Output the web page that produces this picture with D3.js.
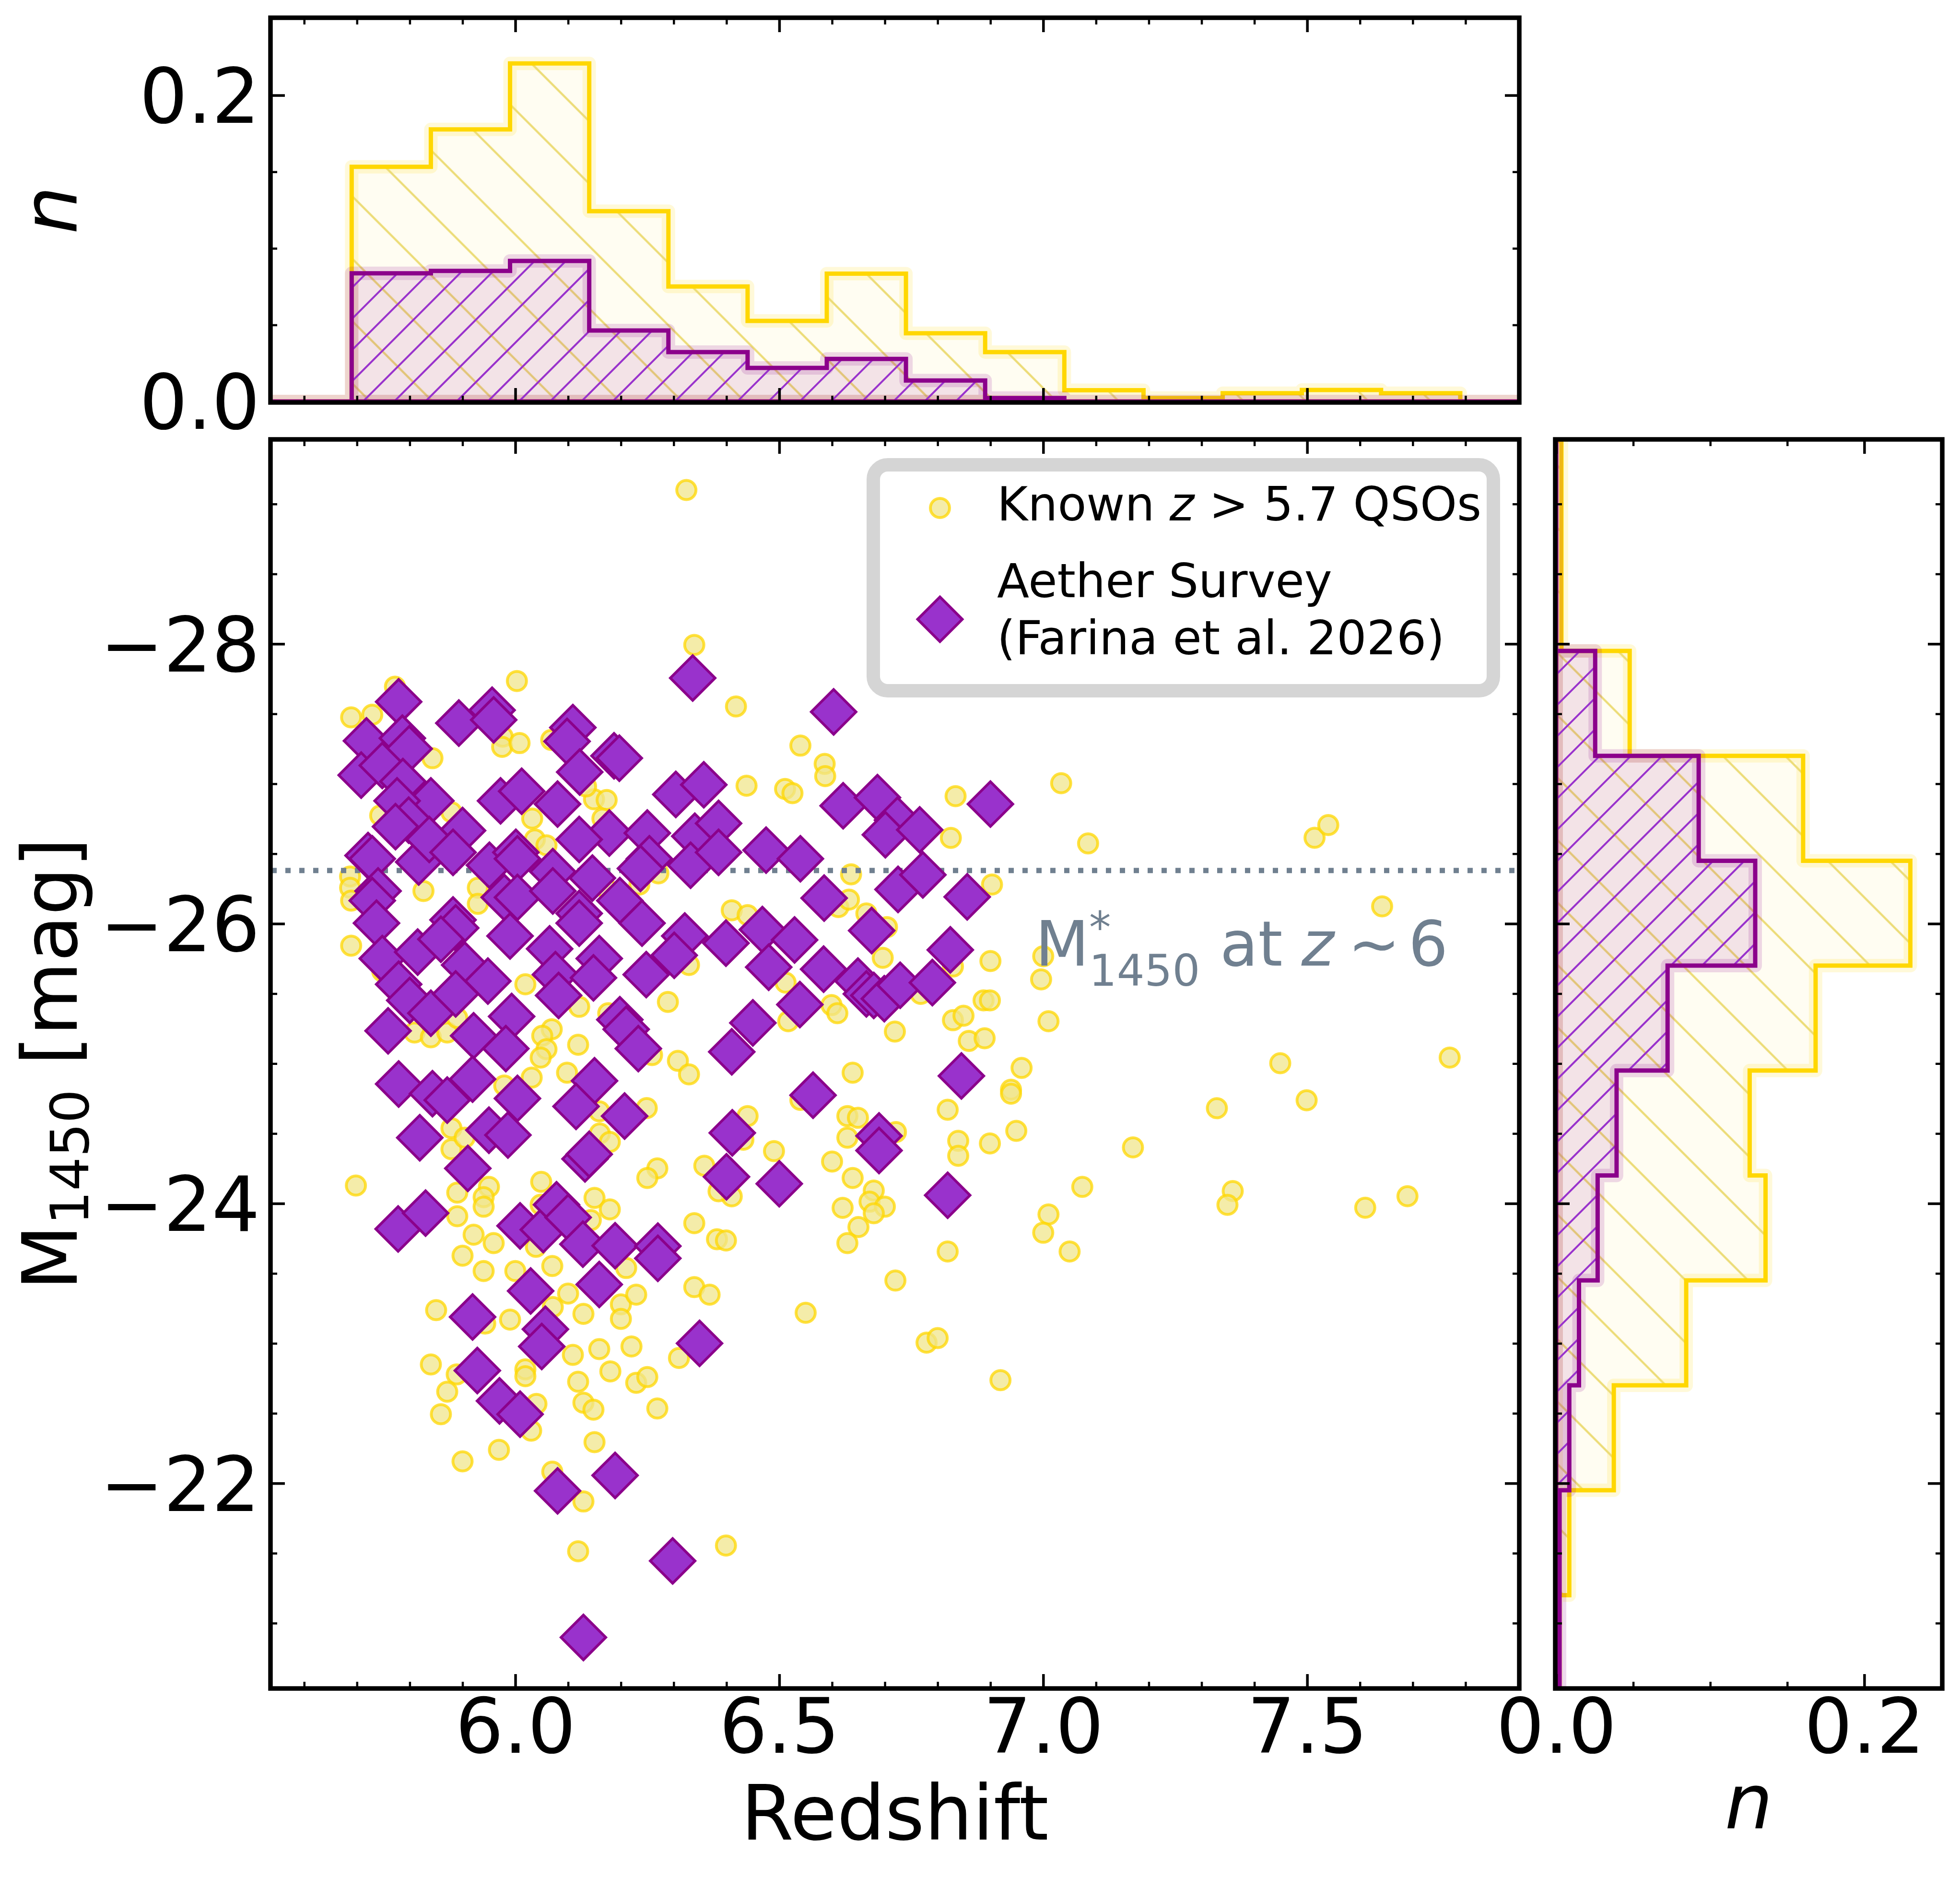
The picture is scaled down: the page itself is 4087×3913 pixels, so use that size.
<!DOCTYPE html>
<html>
<head>
<meta charset="utf-8">
<title>M1450 vs redshift</title>
<script src="https://d3js.org/d3.v7.min.js"></script>
<style>
  body { margin: 0; background: #fff; }
  svg { display: block; font-family: 'DejaVu Sans', sans-serif; }
</style>
</head>
<body>
<div id="chart"></div>
<script>
// ---- data ----
// redshift histogram (top panel), normalised counts per bin
var zEdges = [5.54, 5.69, 5.84, 5.99, 6.14, 6.29, 6.44, 6.59, 6.74, 6.89, 7.04, 7.19, 7.34, 7.49, 7.64, 7.79, 7.94];
var knownZHist  = [0, 0.1533, 0.1777, 0.2208, 0.1243, 0.0751, 0.0526, 0.0835, 0.0446, 0.0323, 0.0074, 0.0023, 0.0054, 0.0075, 0.0054, 0];
var aetherZHist = [0, 0.0837, 0.0853, 0.0918, 0.0464, 0.0323, 0.0219, 0.0278, 0.0137, 0.0023, 0, 0, 0, 0, 0, 0];

// magnitude histogram (right panel)
var mEdges = [-29.45, -28.7, -27.95, -27.2, -26.45, -25.7, -24.95, -24.2, -23.45, -22.7, -21.95, -21.2, -20.45];
var knownMHist  = [0.0034, 0.0034, 0.0477, 0.1603, 0.2299, 0.1684, 0.1256, 0.1359, 0.0844, 0.0374, 0.0085, 0];
var aetherMHist = [0, 0, 0.0253, 0.0925, 0.1292, 0.0723, 0.0392, 0.0269, 0.0148, 0.0085, 0.0022, 0.0022];

// known z>5.7 quasars [redshift, M1450]
var knownQSOs = [
  [6.324,-29.10],
  [6.339,-27.993],[6.003,-27.735],[5.772,-27.694],[5.689,-27.475],[5.729,-27.494],[5.843,-27.183],[5.976,-27.337],[5.975,-27.264],[6.008,-27.291],[6.068,-27.314],
  [6.149,-26.889],[6.173,-26.884],[6.134,-26.981],[5.744,-26.774],[6.032,-26.751],[5.879,-26.797],[6.165,-26.751],[6.037,-26.602],[6.059,-26.56],[6.271,-26.36],
  [6.235,-26.28],[5.687,-26.337],[5.687,-26.257],[5.689,-26.165],[5.929,-26.257],[5.929,-26.142],[5.826,-26.234],[6.171,-26.257],[5.689,-25.843],[6.329,-25.705],
  [6.289,-25.441],[5.748,-25.659],[6.019,-25.567],[6.121,-25.406],[6.176,-25.36],[5.809,-25.222],[5.84,-25.188],[5.871,-25.222],[5.89,-25.326],[6.069,-25.245],
  [6.051,-25.199],[6.059,-25.103],[6.048,-25.043],[6.119,-25.135],[6.308,-25.02],[6.329,-24.923],[6.259,-25.061],[6.031,-24.9],[6.098,-24.935],[5.979,-24.843],
  [6.249,-24.682],[6.159,-24.659],
  [6.418,-27.553],[6.54,-27.273],[6.586,-27.142],[6.587,-27.055],[6.438,-26.986],[6.511,-26.963],[6.525,-26.933],[6.834,-26.912],[7.034,-27.004],[6.825,-26.613],
  [7.085,-26.574],[6.636,-26.353],[6.903,-26.28],[6.41,-26.096],[6.44,-26.061],[6.612,-26.119],[6.632,-26.172],[6.665,-26.073],[6.704,-25.976],[6.696,-25.756],
  [6.9,-25.733],[7.0,-25.767],[6.996,-25.602],[6.829,-25.694],[6.887,-25.452],[6.899,-25.452],[6.829,-25.31],[6.849,-25.342],[6.859,-25.162],[6.889,-25.181],
  [7.01,-25.303],[6.719,-25.229],[6.512,-25.579],[6.599,-25.418],[6.61,-25.36],[6.517,-25.303],[6.959,-24.969],[6.939,-24.813],[6.939,-24.785],[6.639,-24.935],
  [6.819,-24.67],[6.44,-24.625],[6.629,-24.625],[6.649,-24.613],[6.54,-24.74],[6.768,-25.498],
  [5.698,-24.128],[5.879,-24.538],[5.879,-24.388],[5.904,-24.47],[5.89,-24.078],[5.95,-24.119],[5.94,-24.045],[5.94,-23.977],[5.89,-23.909],[5.921,-23.777],
  [5.959,-23.717],[5.9,-23.627],[5.94,-23.517],[6.0,-23.517],[6.039,-23.69],[6.07,-23.553],[6.048,-23.991],[6.049,-24.155],[6.15,-24.04],[6.179,-23.958],
  [6.143,-23.881],[6.269,-24.251],[6.25,-24.182],[6.358,-24.27],[6.339,-23.859],[6.382,-23.744],[6.21,-23.539],[6.1,-23.356],[6.071,-23.26],[6.129,-23.211],
  [6.2,-23.279],[6.2,-23.175],[6.229,-23.348],[6.339,-23.402],[6.368,-23.348],[5.85,-23.238],[5.99,-23.17],[5.943,-23.142],[6.109,-22.918],[6.159,-22.959],
  [6.22,-22.978],[6.31,-22.896],[5.84,-22.849],[5.889,-22.778],[5.871,-22.655],[6.019,-22.814],[6.019,-22.765],[6.119,-22.726],[6.18,-22.8],[6.229,-22.718],
  [6.25,-22.759],[6.129,-22.576],[6.148,-22.526],[6.04,-22.567],[6.269,-22.535],[5.859,-22.494],[6.03,-22.376],[6.15,-22.294],[5.9,-22.157],[5.969,-22.239],
  [6.07,-22.083],[6.129,-21.87],[6.119,-21.514],[6.16,-24.5],[6.179,-24.44],
  [6.432,-24.456],[6.49,-24.374],[6.629,-24.47],[6.721,-24.511],[6.839,-24.448],[6.839,-24.341],[6.899,-24.429],[6.949,-24.519],[7.17,-24.401],[7.074,-24.119],
  [7.01,-23.922],[7.0,-23.791],[7.05,-23.657],[6.6,-24.3],[6.639,-24.182],[6.679,-24.092],[6.671,-24.013],[6.7,-23.977],[6.679,-23.93],[6.62,-23.969],
  [6.65,-23.832],[6.629,-23.717],[6.819,-23.657],[6.72,-23.449],[6.55,-23.219],[6.779,-23.005],[6.8,-23.038],[6.919,-22.737],[6.399,-21.555],[6.399,-23.736],
  [6.41,-24.051],[6.385,-24.087],
  [7.514,-26.614],[7.54,-26.705],[7.642,-26.124],[7.77,-25.043],[7.449,-25.003],[7.499,-24.738],[7.329,-24.681],[7.359,-24.089],[7.349,-23.99],[7.61,-23.97],
  [7.69,-24.052]
];

// Aether survey quasars [redshift, M1450]
var aetherQSOs = [
  [6.336,-27.756],[5.779,-27.586],[5.893,-27.434],[5.956,-27.526],[5.959,-27.457],[5.718,-27.307],[5.786,-27.326],[5.799,-27.25],[5.708,-27.062],[5.748,-27.131],
  [5.787,-27.016],[6.109,-27.402],[6.098,-27.303],[6.187,-27.2],[6.197,-27.183],[6.122,-27.084],[6.08,-26.855],[6.304,-26.924],[6.357,-26.993],[5.84,-26.878],
  [5.776,-26.878],[5.798,-26.74],[5.773,-26.694],[5.972,-26.878],[6.012,-26.947],[5.9,-26.666],[6.178,-26.648],[6.121,-26.602],[6.25,-26.648],[6.34,-26.625],
  [6.385,-26.717],[5.721,-26.487],[5.729,-26.464],[5.817,-26.441],[5.837,-26.602],[5.882,-26.51],[5.951,-26.418],[6.001,-26.51],[6.004,-26.464],[6.071,-26.372],
  [6.146,-26.326],[6.254,-26.464],[6.237,-26.395],[6.332,-26.418],[6.385,-26.51],[5.74,-26.234],[5.729,-26.165],[5.737,-26.004],[5.882,-26.027],[5.887,-25.97],
  [5.979,-26.188],[6.004,-26.188],[6.071,-26.234],[6.121,-26.073],[6.121,-26.004],[6.198,-26.165],[6.24,-26.004],[6.321,-25.912],[5.748,-25.751],[5.815,-25.797],
  [5.859,-25.889],[5.904,-25.705],[5.948,-25.59],[5.99,-25.912],[6.065,-25.82],[6.076,-25.636],[6.159,-25.751],[6.148,-25.613],[6.248,-25.636],[6.301,-25.774],
  [5.779,-25.567],[5.8,-25.452],[5.84,-25.36],[5.887,-25.498],[5.993,-25.337],[6.082,-25.487],[6.198,-25.314],[5.759,-25.234],[5.921,-25.199],[5.982,-25.107],
  [6.21,-25.245],[6.233,-25.107],[5.779,-24.854],[5.843,-24.785],[5.871,-24.739],[5.919,-24.889],[6.004,-24.751],[6.15,-24.877],[6.115,-24.694],[6.207,-24.625],
  [6.603,-27.514],[6.621,-26.843],[6.686,-26.901],[6.724,-26.74],[6.701,-26.636],[6.766,-26.671],[6.9,-26.855],[6.475,-26.526],[6.54,-26.464],[6.585,-26.183],
  [6.725,-26.245],[6.772,-26.349],[6.856,-26.192],[6.399,-25.861],[6.468,-25.958],[6.529,-25.884],[6.675,-25.951],[6.824,-25.813],[6.48,-25.689],[6.584,-25.675],
  [6.649,-25.59],[6.665,-25.498],[6.679,-25.487],[6.699,-25.464],[6.729,-25.56],[6.79,-25.579],[6.539,-25.422],[6.45,-25.291],[6.41,-25.084],[6.845,-24.912],
  [6.564,-24.774],
  [5.819,-24.47],[5.95,-24.524],[5.986,-24.489],[5.91,-24.251],[6.132,-24.319],[6.14,-24.352],[5.778,-23.818],[5.83,-23.931],[6.009,-23.84],[6.053,-23.813],
  [6.078,-23.991],[6.1,-23.9],[6.128,-23.709],[6.189,-23.698],[6.27,-23.695],[6.27,-23.608],[6.159,-23.421],[6.029,-23.375],[5.919,-23.189],[6.057,-23.101],
  [6.05,-22.978],[6.349,-23.0],[5.928,-22.806],[5.97,-22.589],[6.009,-22.494],[6.189,-22.056],[6.08,-21.946],[6.298,-21.445],[6.129,-20.898],
  [6.411,-24.505],[6.4,-24.191],[6.5,-24.141],[6.689,-24.483],[6.689,-24.379],[6.819,-24.059]
];

var mStar = -26.38;           // characteristic magnitude at z~6
var mStarLabelAt = [6.985, -25.7];
var zMajor = [6.0, 6.5, 7.0, 7.5];
var mMajor = [-28, -26, -24, -22];
var nMajor = [0.0, 0.2];

// ---- layout ----
var W = 4087, H = 3913;
var X0 = 566, X1 = 3166, Y0 = 918, Y1 = 3518;   // scatter panel
var TY0 = 39, TY1 = 837;                         // top histogram
var RX0 = 3245, RX1 = 4048;                      // right histogram
var FS = 158;

var x = d3.scaleLinear().domain([5.538, 7.9]).range([X0, X1]);
var y = d3.scaleLinear().domain([-29.455, -20.54]).range([Y0, Y1]);
var nTop = d3.scaleLinear().domain([0, 0.25]).range([TY1, TY0]);
var nRight = d3.scaleLinear().domain([0, 0.25]).range([RX0, RX1]);

var zMinor = d3.range(56, 80).map(function(v) { return v / 10; }).filter(function(v) { return zMajor.indexOf(v) < 0; });
var mMinor = d3.range(-58, -41).map(function(v) { return v / 2; }).filter(function(v) { return mMajor.indexOf(v) < 0; });
var nMinor = [0.05, 0.1, 0.15];

var svg = d3.select("#chart").append("svg")
    .attr("width", W)
    .attr("height", H);
svg.append("rect").attr("width", W).attr("height", H).attr("fill", "#fff");
var defs = svg.append("defs");

function hatch(id, angle, gap, color, width) {
  var p = defs.append("pattern")
      .attr("id", id)
      .attr("patternUnits", "userSpaceOnUse")
      .attr("width", gap).attr("height", gap)
      .attr("patternTransform", "rotate(" + angle + ")");
  p.append("line")
      .attr("x1", gap / 2).attr("x2", gap / 2)
      .attr("y1", -2).attr("y2", gap + 2)
      .attr("stroke", color).attr("stroke-width", width);
}
hatch("hatchKnown", -45, 92, "#ecdc78", 4.5);
hatch("hatchAether", 45, 46, "#9932CC", 4);

function clipRect(id, x0, y0, x1, y1) {
  defs.append("clipPath").attr("id", id).append("rect")
      .attr("x", x0).attr("y", y0).attr("width", x1 - x0).attr("height", y1 - y0);
}
clipRect("clipMain", X0, Y0, X1, Y1);
clipRect("clipTop", X0, TY0, X1, TY1);
clipRect("clipRight", RX0, Y0, RX1, Y1);

function stepPoints(edges, vals) {
  var pts = [[edges[0], 0]];
  vals.forEach(function(v, i) {
    pts.push([edges[i], v]);
    pts.push([edges[i + 1], v]);
  });
  pts.push([edges[edges.length - 1], 0]);
  return pts;
}

function drawHist(g, path, line, fill, hatchId, halo) {
  g.append("path").attr("d", path).attr("fill", "none")
      .attr("stroke", halo).attr("stroke-width", 28).attr("stroke-linejoin", "round");
  g.append("path").attr("d", path).attr("fill", fill);
  g.append("path").attr("d", path).attr("fill", "url(#" + hatchId + ")");
  g.append("path").attr("d", path).attr("fill", "none")
      .attr("stroke", line).attr("stroke-width", 9).attr("stroke-linejoin", "miter");
}

function ticks(axis, scale, major, minor, fmt, tr) {
  var gMin = svg.append("g").attr("transform", tr)
      .call(axis(scale).tickValues(minor).tickSize(-12).tickFormat(function() { return ""; }));
  var gMaj = svg.append("g").attr("transform", tr)
      .call(axis(scale).tickValues(major).tickSize(-28).tickPadding(24)
        .tickFormat(fmt || function() { return ""; }));
  [gMin, gMaj].forEach(function(a) {
    a.select(".domain").remove();
    a.attr("font-size", FS).attr("font-family", "'DejaVu Sans', sans-serif");
  });
  gMin.selectAll("line").attr("stroke-width", 4.5);
  gMaj.selectAll("line").attr("stroke-width", 5.5);
  return gMaj;
}

function frame(x0, y0, x1, y1) {
  svg.append("rect")
      .attr("x", x0 - 2).attr("y", y0 - 2)
      .attr("width", x1 - x0 + 4).attr("height", y1 - y0 + 4)
      .attr("fill", "none").attr("stroke", "#000").attr("stroke-width", 9.5);
}

// ---- top histogram ----
var topLine = d3.line().x(function(d) { return x(d[0]); }).y(function(d) { return nTop(d[1]); });
var gTop = svg.append("g").attr("clip-path", "url(#clipTop)");
drawHist(gTop, topLine(stepPoints(zEdges, knownZHist)) + "Z", "#FFD700", "rgba(255,215,0,0.05)", "hatchKnown", "rgba(255,215,0,0.15)");
drawHist(gTop, topLine(stepPoints(zEdges, aetherZHist)) + "Z", "#8B008B", "rgba(139,0,139,0.1)", "hatchAether", "rgba(139,0,139,0.15)");

// ---- right histogram ----
var rightLine = d3.line().x(function(d) { return nRight(d[1]); }).y(function(d) { return y(d[0]); });
var gRight = svg.append("g").attr("clip-path", "url(#clipRight)");
drawHist(gRight, rightLine(stepPoints(mEdges, knownMHist)) + "Z", "#FFD700", "rgba(255,215,0,0.05)", "hatchKnown", "rgba(255,215,0,0.15)");
drawHist(gRight, rightLine(stepPoints(mEdges, aetherMHist)) + "Z", "#8B008B", "rgba(139,0,139,0.1)", "hatchAether", "rgba(139,0,139,0.15)");

// ---- scatter ----
var gMain = svg.append("g").attr("clip-path", "url(#clipMain)");
gMain.selectAll("circle.known")
    .data(knownQSOs)
  .enter().append("circle")
    .attr("class", "known")
    .attr("cx", function(d) { return x(d[0]); })
    .attr("cy", function(d) { return y(d[1]); })
    .attr("r", 20)
    .attr("fill", "#F0E68C").attr("fill-opacity", 0.75)
    .attr("stroke", "#FFD700").attr("stroke-opacity", 0.75).attr("stroke-width", 6);

gMain.append("line")
    .attr("x1", X0).attr("x2", X1)
    .attr("y1", y(mStar)).attr("y2", y(mStar))
    .attr("stroke", "#708090").attr("stroke-width", 11)
    .attr("stroke-dasharray", "11 18");

var diamond = d3.symbol().type(d3.symbolSquare).size(66 * 66);
gMain.selectAll("path.aether")
    .data(aetherQSOs)
  .enter().append("path")
    .attr("class", "aether")
    .attr("d", diamond)
    .attr("transform", function(d) { return "translate(" + x(d[0]) + "," + y(d[1]) + ") rotate(45)"; })
    .attr("fill", "#9932CC")
    .attr("stroke", "#8B008B").attr("stroke-width", 5.5).attr("stroke-linejoin", "miter");

// M* label, one text with stacked super/subscript
var lx = x(mStarLabelAt[0]), ly = y(mStarLabelAt[1]);
var lab = svg.append("text")
    .attr("x", lx).attr("y", ly)
    .attr("fill", "#708090").attr("font-size", 130);
lab.append("tspan").text("M");
lab.append("tspan").attr("font-size", 91).attr("dy", -48).text("*");
lab.append("tspan").attr("x", lx + 112).attr("dy", 90).attr("font-size", 91).text("1450");
lab.append("tspan").attr("x", lx + 385).attr("dy", -42).text("at");
lab.append("tspan").attr("x", lx + 555).attr("font-style", "italic").text("z");
lab.append("tspan").attr("x", lx + 652).text("\u223C");
lab.append("tspan").attr("x", lx + 778).text("6");

// ---- ticks ----
var f1 = d3.format(".1f"), fi = d3.format("d");
ticks(d3.axisBottom, x, zMajor, zMinor, f1, "translate(0," + Y1 + ")");
ticks(d3.axisTop, x, zMajor, zMinor, null, "translate(0," + Y0 + ")");
ticks(d3.axisLeft, y, mMajor, mMinor, fi, "translate(" + X0 + ",0)").selectAll("text").attr("dy", "0.36em");
ticks(d3.axisRight, y, mMajor, mMinor, null, "translate(" + X1 + ",0)");

ticks(d3.axisBottom, x, zMajor, zMinor, null, "translate(0," + TY1 + ")");
ticks(d3.axisTop, x, zMajor, zMinor, null, "translate(0," + TY0 + ")");
ticks(d3.axisLeft, nTop, nMajor, nMinor, f1, "translate(" + X0 + ",0)").selectAll("text").attr("dy", "0.36em");
ticks(d3.axisRight, nTop, nMajor, nMinor, null, "translate(" + X1 + ",0)");

ticks(d3.axisBottom, nRight, nMajor, nMinor, f1, "translate(0," + Y1 + ")");
ticks(d3.axisTop, nRight, nMajor, nMinor, null, "translate(0," + Y0 + ")");
ticks(d3.axisLeft, y, mMajor, mMinor, null, "translate(" + RX0 + ",0)");
ticks(d3.axisRight, y, mMajor, mMinor, null, "translate(" + RX1 + ",0)");

frame(X0, Y0, X1, Y1);
frame(X0, TY0, X1, TY1);
frame(RX0, Y0, RX1, Y1);

// ---- axis labels ----
svg.append("text")
    .attr("x", (X0 + X1) / 2).attr("y", 3835)
    .attr("text-anchor", "middle").attr("font-size", FS)
    .text("Redshift");
svg.append("text")
    .attr("x", (RX0 + RX1) / 2).attr("y", 3812)
    .attr("text-anchor", "middle").attr("font-size", FS).attr("font-style", "italic")
    .text("n");
svg.append("text")
    .attr("transform", "translate(160," + (TY0 + TY1) / 2 + ") rotate(-90)")
    .attr("text-anchor", "middle").attr("font-size", FS).attr("font-style", "italic")
    .text("n");
var yl = svg.append("text")
    .attr("transform", "translate(160," + (Y0 + Y1) / 2 + ") rotate(-90)")
    .attr("text-anchor", "middle").attr("font-size", FS);
yl.append("tspan").text("M");
yl.append("tspan").attr("font-size", 111).attr("dy", 24).text("1450");
yl.append("tspan").attr("dy", -24).text("\u00A0[mag]");

// ---- legend ----
var lgL = X1 - 52 - 1293, lgT = Y0 + 51;
var lg = svg.append("g");
lg.append("rect")
    .attr("x", lgL).attr("y", lgT).attr("width", 1293).attr("height", 471)
    .attr("rx", 30).attr("ry", 30)
    .attr("fill", "#fff").attr("stroke", "#d5d5d5").attr("stroke-width", 28);
lg.append("circle")
    .attr("cx", lgL + 139).attr("cy", lgT + 90).attr("r", 20)
    .attr("fill", "#F0E68C").attr("fill-opacity", 0.75)
    .attr("stroke", "#FFD700").attr("stroke-opacity", 0.75).attr("stroke-width", 6);
lg.append("path")
    .attr("d", diamond)
    .attr("transform", "translate(" + (lgL + 139) + "," + (lgT + 322) + ") rotate(45)")
    .attr("fill", "#9932CC").attr("stroke", "#8B008B").attr("stroke-width", 5.5);
var t1 = lg.append("text").attr("x", lgL + 258).attr("y", lgT + 116).attr("font-size", 98);
t1.append("tspan").text("Known ");
t1.append("tspan").attr("font-style", "italic").text("z");
t1.append("tspan").text(" > 5.7 QSOs");
lg.append("text").attr("x", lgL + 258).attr("y", lgT + 276).attr("font-size", 98).text("Aether Survey");
lg.append("text").attr("x", lgL + 258).attr("y", lgT + 395).attr("font-size", 98).text("(Farina et al. 2026)");
</script>
</body>
</html>
